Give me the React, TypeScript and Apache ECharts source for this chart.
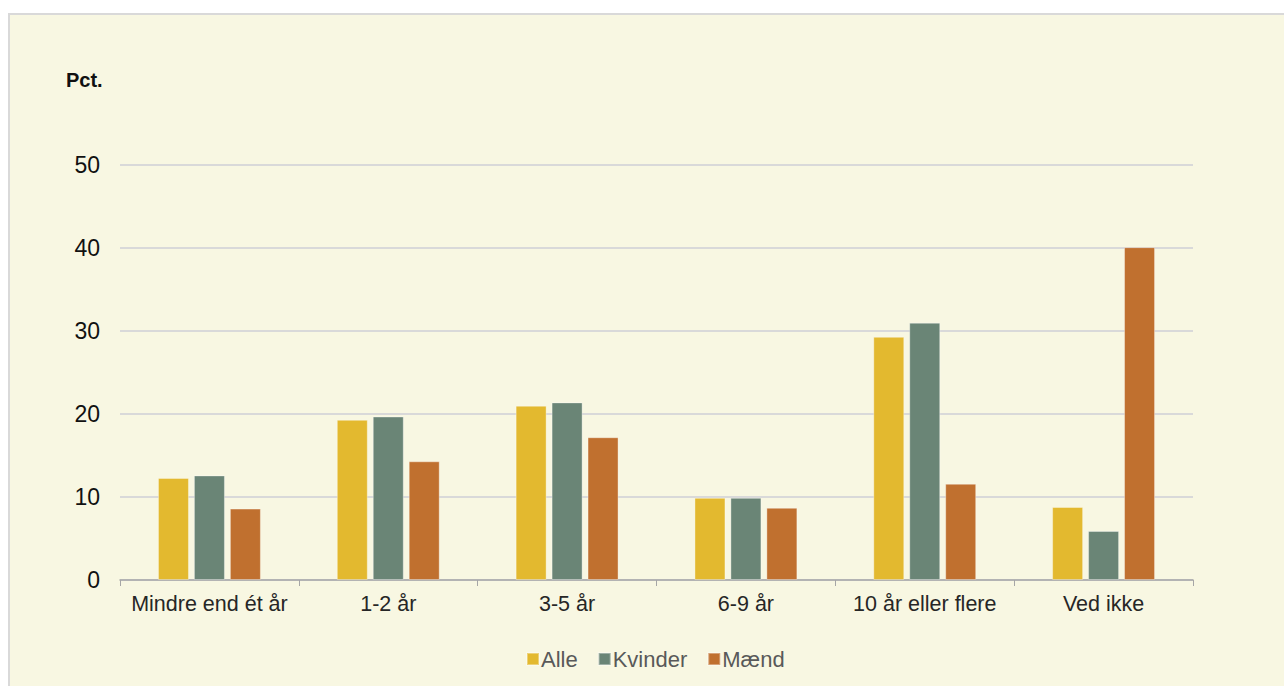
import React, { useEffect, useRef } from "react";
import * as echarts from "echarts";

const categories = ["Mindre end ét år", "1-2 år", "3-5 år", "6-9 år", "10 år eller flere", "Ved ikke"];
const alle = [12.3, 19.3, 21.0, 9.9, 29.3, 8.8];
const kvinder = [12.6, 19.7, 21.4, 9.9, 31.0, 5.9];
const maend = [8.6, 14.3, 17.2, 8.7, 11.6, 40.1];
const seriesNames = ["Alle", "Kvinder", "Mænd"];
const colors = ["#e3b92f", "#6a8576", "#c0702f"];

export default function App() {
  const ref = useRef<HTMLDivElement>(null);
  useEffect(() => {
    const chart = echarts.init(ref.current!, undefined, { renderer: "svg" });
    const font = "Liberation Sans, Arial, sans-serif";
    const mk = (name: string, data: number[], color: string) => ({
      name,
      type: "bar",
      data,
      barWidth: 31,
      barGap: "16%",
      itemStyle: { color, borderColor: "rgba(255,255,255,0.35)", borderWidth: 1 },
    });
    chart.setOption({
      animation: false,
      backgroundColor: "transparent",
      textStyle: { fontFamily: font },
      graphic: [
        {
          type: "rect",
          shape: { x: 9, y: 14, width: 1290, height: 690 },
          style: { fill: "#f8f7e2", stroke: "#d9d9d9", lineWidth: 2 },
          z: -10,
        },
        {
          type: "text",
          x: 66,
          y: 70,
          style: { text: "Pct.", font: `bold 20px ${font}`, fill: "#111" },
        },
      ],
      grid: { left: 120, right: 91, top: 165, bottom: 106 },
      legend: {
        bottom: 16,
        left: 526,
        itemWidth: 12,
        itemHeight: 12,
        itemGap: 20,
        padding: 0,
        icon: "rect",
        textStyle: { fontSize: 22, color: "#595959", fontFamily: font, padding: [0, 0, 0, -3] },
        data: seriesNames,
      },
      xAxis: {
        type: "category",
        data: categories,
        axisLine: { lineStyle: { color: "#a6a6a6", width: 1.5 } },
        axisTick: { show: true, interval: 0, length: 6, lineStyle: { color: "#a6a6a6" } },
        axisLabel: { interval: 0, fontSize: 21.5, color: "#262626", margin: 13, fontFamily: font },
      },
      yAxis: {
        type: "value",
        min: 0,
        max: 50,
        interval: 10,
        axisLine: { show: false },
        axisTick: { show: false },
        axisLabel: { fontSize: 23, color: "#111", margin: 20, fontFamily: font },
        splitLine: { lineStyle: { color: "#d9d9d9", width: 2 } },
      },
      series: [
        mk(seriesNames[0], alle, colors[0]),
        mk(seriesNames[1], kvinder, colors[1]),
        mk(seriesNames[2], maend, colors[2]),
      ],
    });
    return () => chart.dispose();
  }, []);
  return (
    <div
      ref={ref}
      style={{ position: "absolute", left: 0, top: 0, width: 1284, height: 686, background: "#fff" }}
    />
  );
}
